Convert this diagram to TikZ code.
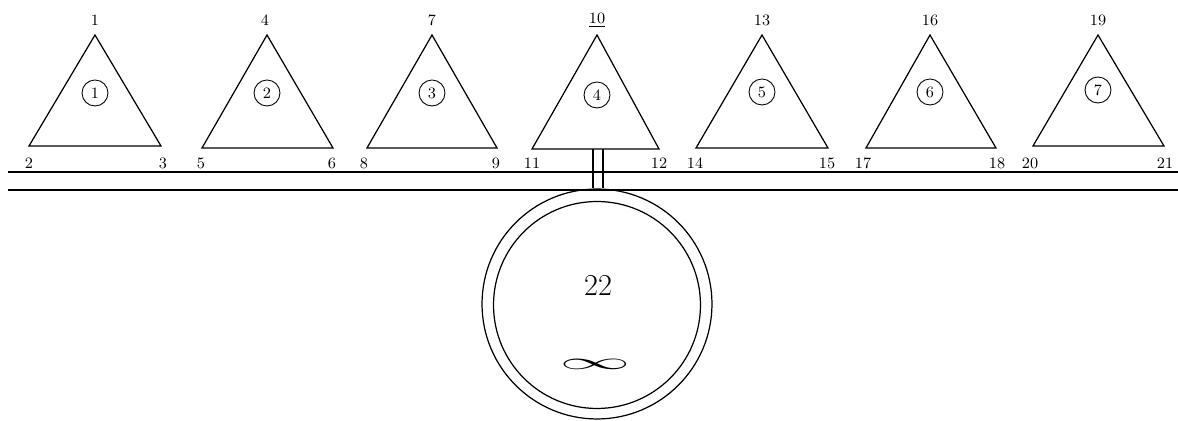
\documentclass[tikz,border=0pt]{standalone}
\usepackage{graphicx}
\begin{document}
\begin{tikzpicture}[x=0.02cm,y=-0.02cm,line width=0.7pt,
    num/.style={font=\small,inner sep=1pt},
    elem/.style={circle,draw,line width=0.5pt,minimum size=0.52cm,inner sep=0pt,font=\small}]
  \useasboundingbox (0,0) rectangle (1178,421);

  % elements 1..7
  \coordinate (v1) at (95,35); \coordinate (v2) at (29,146); \coordinate (v3) at (161,146);
  \draw (v1) -- (v2) -- (v3) -- cycle;
  \node[elem] (e1) at (95,93) {1};
  \node[num] (n1) at (95,20) {1}; \node[num] (n2) at (29,163) {2}; \node[num] (n3) at (163,163) {3};

  \coordinate (v4) at (267,35); \coordinate (v5) at (202,148); \coordinate (v6) at (333,148);
  \draw (v4) -- (v5) -- (v6) -- cycle;
  \node[elem] (e2) at (267,93) {2};
  \node[num] (n4) at (265,20) {4}; \node[num] (n5) at (201,163) {5}; \node[num] (n6) at (332,163) {6};

  \coordinate (v7) at (432,35); \coordinate (v8) at (367,148); \coordinate (v9) at (497,148);
  \draw (v7) -- (v8) -- (v9) -- cycle;
  \node[elem] (e3) at (432,93) {3};
  \node[num] (n7) at (432,20) {7}; \node[num] (n8) at (364,163) {8}; \node[num] (n9) at (496,163) {9};

  \coordinate (v10) at (597,35); \coordinate (v11) at (532,149); \coordinate (v12) at (659,149);
  \draw (v10) -- (v11) -- (v12) -- cycle;
  \node[elem] (e4) at (597,95) {4};
  \node[num] (n10) at (597,20) {\underline{10}}; \node[num] (n11) at (532,163) {11}; \node[num] (n12) at (659,163) {12};

  \coordinate (v13) at (762,35); \coordinate (v14) at (696,148); \coordinate (v15) at (828,148);
  \draw (v13) -- (v14) -- (v15) -- cycle;
  \node[elem] (e5) at (762,92) {5};
  \node[num] (n13) at (762,20) {13}; \node[num] (n14) at (695,163) {14}; \node[num] (n15) at (827,163) {15};

  \coordinate (v16) at (930,35); \coordinate (v17) at (866,148); \coordinate (v18) at (996,148);
  \draw (v16) -- (v17) -- (v18) -- cycle;
  \node[elem] (e6) at (930,92) {6};
  \node[num] (n16) at (930,20) {16}; \node[num] (n17) at (863,163) {17}; \node[num] (n18) at (997,163) {18};

  \coordinate (v19) at (1098,35); \coordinate (v20) at (1033,146); \coordinate (v21) at (1164,146);
  \draw (v19) -- (v20) -- (v21) -- cycle;
  \node[elem] (e7) at (1098,90) {7};
  \node[num] (n19) at (1098,20) {19}; \node[num] (n20) at (1030,163) {20}; \node[num] (n21) at (1165,163) {21};

  % rails
  \coordinate (railA) at (8,172); \coordinate (railB) at (1178,172);
  \coordinate (railC) at (8,190); \coordinate (railD) at (1178,190);
  \draw (railA) -- (railB);
  \draw (railC) -- (railD);

  % node 22
  \node[circle,draw,minimum size=4.6cm,inner sep=0pt] (tank) at (597,304) {};
  \node[circle,draw,minimum size=4.14cm,inner sep=0pt] (tankin) at (597,305) {};
  \node[font=\LARGE] (n22) at (598,285) {22};
  \node (inf) at (595,364) {\scalebox{4}[1.35]{$\infty$}};

  % link from element 4
  \coordinate (linkA) at (593,149); \coordinate (linkB) at (603,149);
  \draw (linkA) -- (linkA |- tank.north);
  \draw (linkB) -- (linkB |- tank.north);
\end{tikzpicture}
\end{document}
